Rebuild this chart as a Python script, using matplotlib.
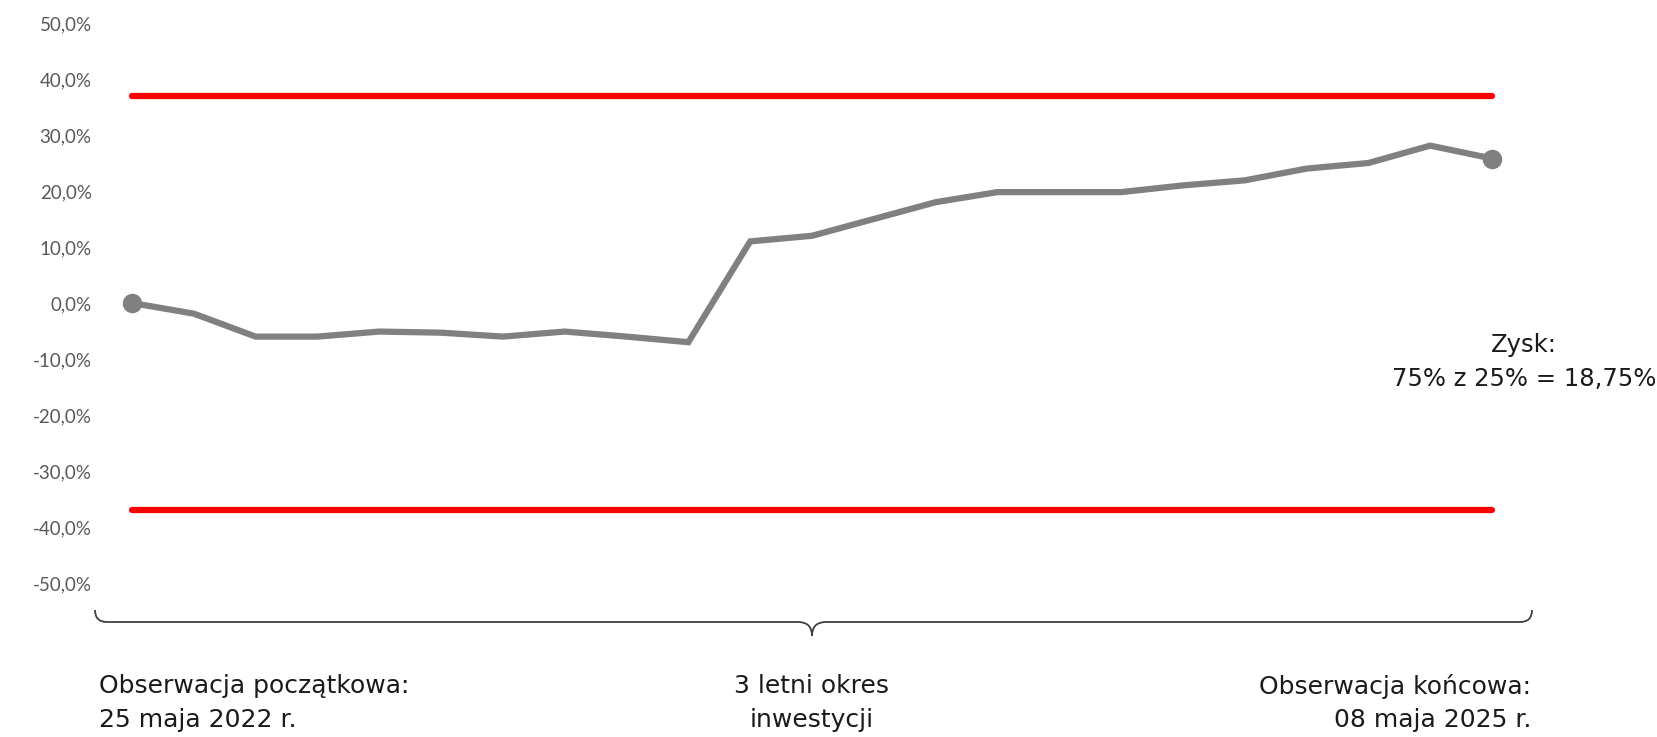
import numpy as np
import matplotlib
matplotlib.use("Agg")
import matplotlib.pyplot as plt
from matplotlib.path import Path
from matplotlib.patches import PathPatch

# --- Data ---
values = [0.0, -1.9, -6.0, -6.0, -5.1, -5.3, -6.0, -5.1, -6.0, -7.0,
          11.0, 12.0, 15.0, 18.0, 19.8, 19.8, 19.8, 21.0, 21.9, 24.0,
          25.0, 28.1, 25.8]
barrier_up = 37.0
barrier_down = -37.0
y_ticks = [50, 40, 30, 20, 10, 0, -10, -20, -30, -40, -50]
y_labels = ["50,0%", "40,0%", "30,0%", "20,0%", "10,0%", "0,0%",
            "-10,0%", "-20,0%", "-30,0%", "-40,0%", "-50,0%"]
text_start = "Obserwacja początkowa:\n25 maja 2022 r."
text_mid = "3 letni okres\ninwestycji"
text_end = "Obserwacja końcowa:\n08 maja 2025 r."
text_gain = "Zysk:\n75% z 25% = 18,75%"

W, H = 1657, 737
fig = plt.figure(figsize=(W / 100, H / 100), dpi=100)

# axes placement in pixels
ax_left, ax_right = 100, 1520
ax_bottom, ax_top = 583, 23
ax = fig.add_axes([ax_left / W, 1 - ax_bottom / H,
                   (ax_right - ax_left) / W, (ax_bottom - ax_top) / H])

x = np.arange(len(values))
step = (1492 - 132) / (len(values) - 1)
ax.set_xlim(-(132 - ax_left) / step, (len(values) - 1) + (ax_right - 1492) / step)
ax.set_ylim(-50, 50)

# --- Barrier lines ---
ax.plot([x[0], x[-1]], [barrier_up, barrier_up], color="#ff0000", lw=4.5,
        solid_capstyle="round")
ax.plot([x[0], x[-1]], [barrier_down, barrier_down], color="#ff0000", lw=4.5,
        solid_capstyle="round")

# --- Performance line ---
ax.plot(x, values, color="#808080", lw=4.5, solid_joinstyle="miter")
ax.plot([x[0], x[-1]], [values[0], values[-1]], "o", color="#808080",
        markersize=13)

for s in ax.spines.values():
    s.set_visible(False)
ax.set_xticks([])
ax.set_yticks(y_ticks)
ax.set_yticklabels(y_labels, family=["Lato", "DejaVu Sans"], fontsize=13.5,
                   color="#595959")
ax.tick_params(axis="y", length=0, pad=6)

# --- Curly brace under the chart (figure pixel coords) ---
def px(xp, yp):
    return (xp / W, 1 - yp / H)

bx0, bx1, bxm = 95, 1532, 812
by_edge, by_line, by_tip = 610, 622, 636
left_half = Path([px(bx0, by_edge), px(bx0, by_line), px(bx0 + 12, by_line),
                  px(bxm - 14, by_line), px(bxm, by_line), px(bxm, by_tip)],
                 [Path.MOVETO, Path.CURVE3, Path.CURVE3,
                  Path.LINETO, Path.CURVE3, Path.CURVE3])
right_half = Path([px(bx1, by_edge), px(bx1, by_line), px(bx1 - 12, by_line),
                   px(bxm + 14, by_line), px(bxm, by_line), px(bxm, by_tip)],
                  [Path.MOVETO, Path.CURVE3, Path.CURVE3,
                   Path.LINETO, Path.CURVE3, Path.CURVE3])
for p in (left_half, right_half):
    fig.add_artist(PathPatch(p, transform=fig.transFigure, facecolor="none",
                             edgecolor="#404040", lw=1.3))

# --- Texts ---
tfont = dict(family=["DejaVu Sans"], fontsize=18, color="#1a1a1a",
             linespacing=1.5)
fig.text(99 / W, 1 - 674 / H, text_start, ha="left", va="top", **tfont)
fig.text(812 / W, 1 - 674 / H, text_mid, ha="center", va="top", **tfont)
fig.text(1531 / W, 1 - 674 / H, text_end, ha="right", va="top", **tfont)
fig.text(1524 / W, 1 - 333 / H, text_gain, ha="center", va="top",
         **dict(tfont, fontsize=17.5, linespacing=1.55))

fig.savefig("out.png", dpi=100)
